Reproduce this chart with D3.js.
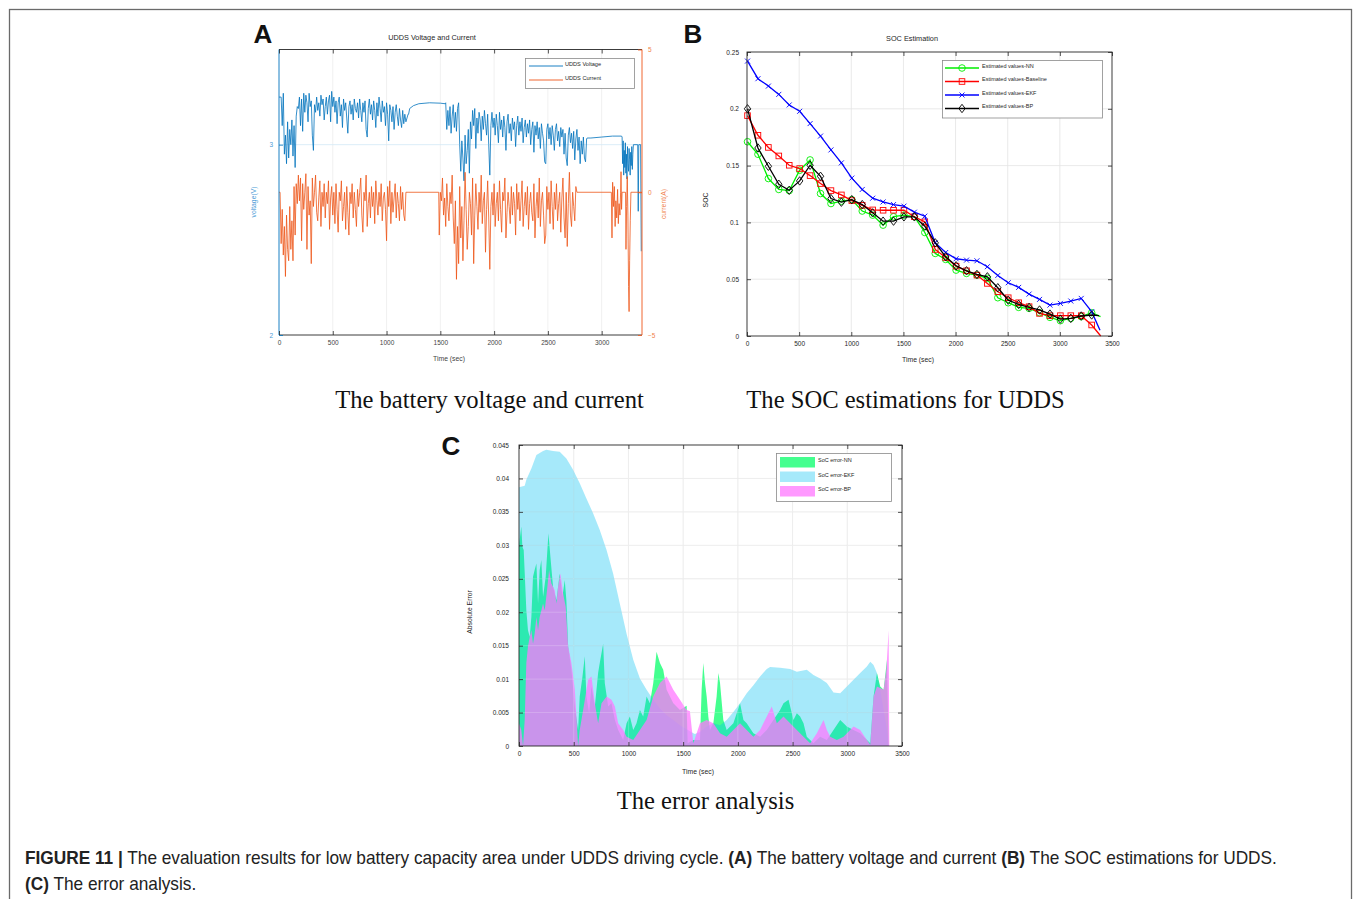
<!DOCTYPE html>
<html><head><meta charset="utf-8">
<script src="https://cdn.jsdelivr.net/npm/d3@7"></script>
<style>
body{margin:0;background:#fff}
svg{display:block}
</style>
</head><body>
<svg id="c" width="1355" height="899" font-family='"Liberation Sans",Arial,Helvetica,sans-serif'></svg>
<script>
// ---------------- DATA ----------------
// Panel A: voltage (V), driving segments sampled every 10 s
const voltDrive1 = [3.25,3.25,3.25,3.10,3.27,2.95,3.05,2.90,3.12,2.93,
 3.08,3.00,3.13,2.94,3.10,2.88,3.15,3.20,3.19,3.25,
 3.10,3.24,3.07,3.27,3.17,3.26,3.22,3.12,3.27,3.20,
 3.23,3.05,2.97,3.21,3.17,3.25,3.18,3.22,3.15,3.26,
 3.21,3.24,3.13,3.20,3.25,3.16,3.23,3.26,3.12,3.28,
 3.20,3.25,3.17,3.23,3.11,3.22,3.25,3.15,3.21,3.09,
 3.24,3.18,3.22,3.14,3.06,3.20,3.23,3.16,3.21,3.13,
 3.24,3.19,3.17,3.22,3.14,3.24,3.18,3.12,3.22,3.17,
 3.23,3.08,3.04,3.19,3.24,3.16,3.21,3.13,3.23,3.18,
 3.09,3.22,3.15,3.25,3.19,3.12,3.23,3.17,3.20,3.10,
 3.22,3.16,3.02,3.21,3.18,3.12,3.20,3.08,3.17,3.21,
 3.15,3.10,3.19,3.13,3.09,3.18,3.11,3.16,3.12,3.14,
 3.16];                       // t = 0 .. 1200
const voltRest1T = [1205,1215,1250,1300,1400,1500,1545];
const voltRest1V = [3.16,3.19,3.205,3.215,3.22,3.218,3.215];
const voltDrive2 = [3.22,3.08,3.18,3.10,3.20,3.06,3.15,3.21,3.09,3.17,
 3.07,3.19,3.22,3.00,2.86,3.02,2.93,2.81,3.05,2.90,
 2.97,3.08,2.85,3.12,3.03,3.18,3.10,3.19,2.98,3.14,
 3.06,3.17,3.13,3.02,3.15,3.08,3.18,3.11,3.05,3.16,
 3.00,2.84,3.10,3.17,3.09,3.14,3.05,3.16,3.10,3.01,
 3.17,3.08,3.13,3.04,3.15,3.09,2.97,3.12,3.16,3.06,
 3.11,3.02,3.14,3.08,3.12,2.99,3.10,3.15,3.05,3.12,
 3.07,3.14,3.01,3.09,3.13,3.04,3.11,3.06,3.13,3.00,
 3.08,3.12,2.96,3.10,3.05,3.12,3.03,3.09,2.98,3.11,
 3.06,3.02,2.91,2.90,3.08,3.11,3.03,3.09,3.00,3.10,
 3.05,2.97,3.08,3.11,3.02,3.07,2.99,3.09,3.04,3.08,
 2.95,3.06,2.93,2.89,3.05,3.09,3.01,3.06,2.98,3.07,
 2.92,3.03,3.08,2.97,3.04,2.90,3.02,2.95,3.04,2.93,
 2.91,3.03];                  // t = 1550 .. 2860
const voltRest2T = [2865,2900,3000,3100,3185];
const voltRest2V = [3.035,3.035,3.04,3.045,3.045];
const voltDrive3 = [3.04,2.90,3.02,2.84,2.97,2.88,3.01,2.85,2.95,2.82,2.99,
 2.90,2.86,2.98,2.92,2.84,2.96,2.89,2.99,2.87,2.95,3.00]; // t = 3190 .. 3295, every 5 s
const voltEndT = [3335,3340,3345,3362,3368];
const voltEndV = [3.0,2.65,3.0,3.0,2.44];

// Panel A: current (A)
const curDrive1 = [0,0,-1.8,-0.6,-2.2,-1.2,-2.95,-0.8,-2.0,-2.4,
 -0.5,-2.0,-1.0,-2.4,0.2,-1.5,0.3,-0.4,0.6,-0.3,
 0.5,-1.7,0.3,-0.6,0,0.65,-2.0,0.2,-0.8,-0.3,
 -2.5,0.5,-0.5,0,0.6,-0.7,-1.0,-0.2,0.4,-1.2,
 0,-0.5,0.3,-0.9,0,-0.4,0.4,-1.3,-0.2,0.2,
 -0.8,0,-1.1,0.3,-0.6,-1.4,0,-0.3,0.4,-1.0,
 -0.5,0,-1.3,0.2,-0.7,-1.5,0,-0.4,0.3,-0.9,
 0,-0.6,-1.2,0.1,-0.5,0,0.5,-0.8,-1.4,0,
 -0.3,0.6,-1.2,-0.4,0,-0.9,0.2,-0.5,0,-1.1,
 0.4,-0.3,-0.8,0,-0.5,0.3,-1.0,-0.2,0,-0.6,
 -1.7,0.2,-0.5,0.4,-1.1,0,-0.7,-0.2,0.3,-0.9,
 0,-0.4,-1.0,0.2,-0.6,0,-0.8,-1.0,0,0];      // t = 0 .. 1190
const curRest1T = [1200,1485];
const curRest1V = [0,0];
const curDrive2 = [-1.5,0,-0.3,0.5,-0.8,-0.2,-1.2,0.3,-0.5,-1.0,
 0,-0.4,0.6,-0.9,-1.8,-0.3,-3.05,-1.2,-2.5,0.2,
 -1.6,-0.5,-2.4,-1.0,0.7,-0.6,-2.0,-1.2,0,-0.4,
 -1.5,0.5,-2.5,-0.8,0.3,-0.5,-1.3,0,-0.7,0.6,
 -1.1,-0.3,0,-2.1,-0.6,0.4,-0.9,-2.7,-0.5,0,
 -0.8,0.3,-1.2,-0.4,0,-1.0,0.4,-0.6,-1.4,0,
 -0.3,0.5,-1.6,-0.7,0,-0.5,-1.1,0.2,-0.8,0,
 -0.4,-1.5,0.3,-0.6,0,-1.0,-0.3,0.4,-1.2,-0.5,
 0,-0.8,0.2,-1.3,-0.4,0,-0.7,-1.0,0.3,-1.6,
 -0.5,0,-0.9,0.5,-1.2,-0.3,0,-0.8,-1.8,-1.5,
 0.2,-0.6,0,-1.1,0.4,-0.5,-1.3,0,-0.6,0.3,
 -1.0,-0.4,0,-1.4,-0.2,0.5,-0.9,-1.6,0,-1.9,
 -0.4,0.7,-0.8,-1.2,0,-0.5,-1.0,0.2,0];       // t = 1490 .. 2770
const curRest2T = [2780,3090];
const curRest2V = [0,0];
const curDrive3T = [3096,3102,3110,3118,3125,3132,3140,3148,3155,3162,3170,3176,3180,3185,3190,3222,3226,3232,3238,3244,3250,3255,3260,3266,3272,3375];
const curDrive3V = [-1.6,0.35,-0.5,0.2,-1.2,-0.3,-0.9,0.1,-1.1,-0.4,-0.8,0,0.72,-0.6,0,0,-2.0,-0.5,0.55,-0.8,-3.3,-4.18,-2.4,-1.0,0,0];

const timeTicksA = [0,500,1000,1500,2000,2500,3000];
const voltTicks = [2,3];
const curTicks = [-5,0,5];

// Panel B: SOC estimations, markers every 100 s
const socTime = [5,105,205,305,405,505,605,705,805,905,1005,1105,1205,1305,1405,1505,1605,1705,1805,1905,2005,2105,2205,2305,2405,2505,2605,2705,2805,2905,3005,3105,3205,3305];
const socNN  = [0.171,0.160,0.1386,0.129,0.128,0.1459,0.155,0.1254,0.1166,0.1187,0.120,0.110,0.1064,0.0976,0.105,0.1064,0.105,0.0911,0.0727,0.0674,0.058,0.0551,0.0536,0.0507,0.0337,0.0293,0.0252,0.0243,0.0205,0.0164,0.0135,0.0155,0.017,0.0205];
const socBase= [0.194,0.1767,0.166,0.1585,0.1503,0.1474,0.1412,0.1342,0.128,0.1242,0.1192,0.115,0.111,0.1107,0.1107,0.1107,0.105,0.1005,0.0762,0.0691,0.0615,0.0574,0.0536,0.0463,0.039,0.0337,0.0293,0.0258,0.0199,0.0179,0.0179,0.0179,0.0179,0.0097];
const socEKF = [0.242,0.2265,0.220,0.2127,0.2034,0.1978,0.187,0.176,0.1638,0.1524,0.139,0.129,0.1213,0.118,0.1157,0.1143,0.109,0.1055,0.082,0.0735,0.068,0.0668,0.0662,0.061,0.0533,0.0469,0.0428,0.0369,0.0322,0.0272,0.0287,0.0308,0.0331,0.0214];
const socBP  = [0.200,0.1655,0.1494,0.1336,0.1283,0.1365,0.1503,0.1406,0.121,0.1178,0.120,0.1157,0.1084,0.1011,0.1011,0.1049,0.1049,0.0967,0.082,0.0697,0.0618,0.0574,0.0542,0.0521,0.0425,0.0316,0.0278,0.0252,0.0229,0.0193,0.0149,0.0155,0.0176,0.0185];
const socEndTime = [3390,3392,3385,3375];       // NN, Baseline, EKF, BP final points (no marker)
const socEndVal  = [0.017,0.0,0.005,0.018];
const socNames = ["Estimated values-NN","Estimated values-Baseline","Estimated values-EKF","Estimated values-BP"];
const timeTicksB = [0,500,1000,1500,2000,2500,3000,3500];
const socTicks = [0,0.05,0.1,0.15,0.2,0.25];

// Panel C: absolute SOC errors
const errNNTime = [0,21,31,43,55,67,82,98,113,128,143,159,174,189,204,220,244,269,287,311,342,372,397,418,433,449,479,510,540,555,580,601,616,641,662,693,723,738,769,784,815,845,876,906,952,983,1013,1044,1074,1105,1135,1166,1196,1227,1257,1288,1318,1349,1410,1471,1532,1541,1593,1654,1669,1684,1700,1715,1730,1745,1776,1806,1822,1837,1867,1898,1959,2020,2051,2081,2142,2203,2264,2325,2386,2417,2463,2508,2539,2569,2600,2630,2691,2752,2813,2874,2935,2966,2996,3057,3118,3179,3210,3240,3271,3301,3332,3363,3378];
const errNN = [0.030,0.0328,0.0298,0.0293,0.0248,0.0203,0.0173,0.0163,0.0193,0.0253,0.0263,0.0273,0.0213,0.0263,0.0278,0.0223,0.0253,0.0318,0.0283,0.0238,0.0218,0.0258,0.0223,0.0248,0.0218,0.0149,0.0114,0.0059,0.0024,0.0074,0.0104,0.0134,0.0074,0.0049,0.0089,0.0059,0.0109,0.0124,0.0153,0.0094,0.0059,0.0064,0.0039,0.0024,0.0009,0.0034,0.0044,0.0024,0.0034,0.0054,0.0044,0.0074,0.0064,0.0094,0.0141,0.0124,0.0114,0.0084,0.0064,0.0054,0.0060,0.0004,0.0009,0.0009,0.0084,0.0124,0.0094,0.0074,0.0044,0.0024,0.0034,0.0074,0.0109,0.0094,0.0039,0.0024,0.0034,0.0064,0.0039,0.0034,0.0019,0.0014,0.0024,0.0039,0.0054,0.0064,0.0069,0.0039,0.0049,0.0044,0.0034,0.0014,0.0004,0.0014,0.0009,0.0024,0.0039,0.0034,0.0029,0.0024,0.0019,0.0009,0.0004,0.0074,0.0109,0.0089,0.0084,0.0129,0];
const errEKFTime = [0,52,67,113,159,220,250,311,372,433,494,555,616,677,738,800,860,921,983,1044,1105,1166,1227,1288,1349,1410,1471,1532,1593,1608,1654,1715,1776,1837,1898,1959,2020,2081,2142,2203,2264,2295,2386,2478,2539,2630,2691,2752,2813,2874,2935,2996,3057,3118,3179,3210,3240,3271,3301,3332,3363,3378];
const errEKF = [0.0387,0.0389,0.0398,0.0415,0.0435,0.0441,0.0443,0.0441,0.0440,0.0430,0.0413,0.0393,0.0370,0.0348,0.0323,0.0293,0.0258,0.0213,0.0168,0.0129,0.0101,0.0084,0.0069,0.0056,0.0046,0.0039,0.0031,0.0025,0.0019,0.0018,0.0021,0.0029,0.0034,0.0031,0.0039,0.0051,0.0064,0.0079,0.0091,0.0104,0.0115,0.0118,0.0117,0.0115,0.0111,0.0114,0.0106,0.0101,0.0094,0.0080,0.0079,0.0089,0.0099,0.0109,0.0119,0.0126,0.0121,0.0109,0.0084,0.0054,0.0024,0];
const errBPTime = [0,21,37,52,67,82,98,113,128,143,159,174,189,220,235,256,275,296,327,342,357,378,403,427,449,479,510,525,540,555,586,632,662,693,723,754,800,845,876,906,952,983,1044,1105,1166,1227,1288,1349,1410,1471,1532,1562,1593,1654,1715,1776,1837,1898,1959,2020,2081,2142,2203,2264,2310,2356,2417,2478,2539,2600,2661,2722,2783,2813,2844,2905,2966,3057,3118,3179,3210,3240,3271,3332,3357,3378,3384];
const errBP = [0.0034,0.0024,0,0.0039,0.0124,0.0149,0.0163,0.0173,0.0153,0.0168,0.0193,0.0173,0.0193,0.0213,0.0203,0.0233,0.0263,0.0243,0.0233,0.0213,0.0238,0.0258,0.0228,0.0208,0.0149,0.0124,0.0084,0.0044,0,0.0024,0.0054,0.0099,0.0104,0.0064,0.0034,0.0064,0.0074,0.0069,0.0059,0.0034,0.0024,0.0014,0.0009,0.0024,0.0039,0.0074,0.0094,0.0104,0.0084,0.0069,0.0054,0.0052,0.0004,0.0034,0.0039,0.0034,0.0019,0.0014,0.0024,0.0034,0.0024,0.0014,0.0024,0.0044,0.0059,0.0034,0.0044,0.0034,0.0024,0.0014,0.0004,0.0019,0.0039,0.0024,0.0014,0.0009,0.0014,0.0029,0.0024,0.0009,0.0002,0.0074,0.0089,0.0084,0.0114,0.0173,0];
const errNames = ["SoC error-NN","SoC error-EKF","SoC error-BP"];
const timeTicksC = [0,500,1000,1500,2000,2500,3000,3500];
const errTicks = [0,0.005,0.01,0.015,0.02,0.025,0.03,0.035,0.04,0.045];

// ---------------- DRAWING ----------------
const svg = d3.select('#c');
const SANS = '"Liberation Sans",Arial,Helvetica,sans-serif';
const AX = '#262626', GRID = '#e3e3e3';
const pair = (T,V) => T.map((t,i)=>[t,V[i]]);
const seq = (start,step,V) => V.map((v,i)=>[start+i*step,v]);

svg.append('rect').attr('x',9.5).attr('y',9.5).attr('width',1342).attr('height',1000)
  .attr('fill','none').attr('stroke','#6a6a6a').attr('stroke-width',1.3);

function styleAxis(g, color, size){
  g.select('.domain').remove();
  g.attr('font-family',SANS);
  g.selectAll('.tick line').attr('stroke',color).attr('stroke-width',0.8);
  g.selectAll('.tick text').attr('fill',color).attr('font-size',size||7);
}
function label(g,x,y,txt,opts={}){
  const t = g.append('text').attr('x',x).attr('y',y).text(txt)
    .attr('font-size',opts.size||7).attr('fill',opts.fill||AX)
    .attr('text-anchor',opts.anchor||'middle').style('font-family',SANS);
  if(opts.rot) t.attr('transform',`rotate(${opts.rot},${x},${y})`);
  if(opts.weight) t.attr('font-weight',opts.weight);
  return t;
}

// ===== Panel A =====
(function(){
  const L=279,R=642,T=49.5,B=335;
  const g = svg.append('g');
  const x = d3.scaleLinear().domain([0,3375]).range([L,R]);
  const yV = d3.scaleLinear().domain([2,3.5]).range([B,T]);
  const yI = d3.scaleLinear().domain([-5,5]).range([B,T]);
  const VC='#0072BD', IC='#EE5518';
  g.selectAll('line.gx').data(timeTicksA.slice(1)).join('line')
    .attr('x1',d=>x(d)).attr('x2',d=>x(d)).attr('y1',T).attr('y2',B)
    .attr('stroke','#ececec').attr('stroke-width',0.8);
  g.selectAll('line.gy').data([3]).join('line')
    .attr('x1',L).attr('x2',R).attr('y1',d=>yV(d)).attr('y2',d=>yV(d))
    .attr('stroke','#d3e9f6').attr('stroke-width',0.8);
  const volt = [].concat(seq(0,10,voltDrive1), pair(voltRest1T,voltRest1V), seq(1550,10,voltDrive2),
    pair(voltRest2T,voltRest2V), seq(3190,5,voltDrive3), pair(voltEndT,voltEndV));
  const cur = [].concat(seq(0,10,curDrive1), pair(curRest1T,curRest1V), seq(1490,10,curDrive2),
    pair(curRest2T,curRest2V), pair(curDrive3T,curDrive3V));
  g.append('path').datum(volt).attr('fill','none').attr('stroke',VC).attr('stroke-width',0.8)
    .attr('d',d3.line().x(d=>x(d[0])).y(d=>yV(d[1])));
  g.append('path').datum(cur).attr('fill','none').attr('stroke',IC).attr('stroke-width',0.8)
    .attr('d',d3.line().x(d=>x(d[0])).y(d=>yI(d[1])));
  g.append('line').attr('x1',L).attr('x2',R).attr('y1',T).attr('y2',T).attr('stroke',AX).attr('stroke-width',0.9);
  g.append('line').attr('x1',L).attr('x2',R).attr('y1',B).attr('y2',B).attr('stroke',AX).attr('stroke-width',0.9);
  g.append('line').attr('x1',L).attr('x2',L).attr('y1',T).attr('y2',B).attr('stroke',VC).attr('stroke-width',0.9);
  g.append('line').attr('x1',R).attr('x2',R).attr('y1',T).attr('y2',B).attr('stroke',IC).attr('stroke-width',0.9);
  const ab = g.append('g').attr('transform',`translate(0,${B})`)
    .call(d3.axisBottom(x).tickValues(timeTicksA).tickSize(-4).tickPadding(5).tickFormat(d3.format('d')));
  styleAxis(ab,'#444',6.5); ab.selectAll('.tick line').attr('stroke',AX);
  const at = g.append('g').attr('transform',`translate(0,${T})`)
    .call(d3.axisTop(x).tickValues(timeTicksA).tickSize(-4).tickFormat(''));
  styleAxis(at,AX);
  const al = g.append('g').attr('transform',`translate(${L},0)`)
    .call(d3.axisLeft(yV).tickValues(voltTicks).tickSize(-4).tickPadding(6).tickFormat(d3.format('d')));
  styleAxis(al,'#4a9ad6',6.5); al.selectAll('.tick line').attr('stroke',VC);
  const ar = g.append('g').attr('transform',`translate(${R},0)`)
    .call(d3.axisRight(yI).tickValues(curTicks).tickSize(-4).tickPadding(6).tickFormat(d3.format('d')));
  styleAxis(ar,'#f0824a',6.5); ar.selectAll('.tick line').attr('stroke',IC);
  label(g,432,40,'UDDS Voltage and Current',{size:7.3});
  label(g,449,361,'Time (sec)',{size:6.8,fill:'#444'});
  label(g,256,202,'voltage(V)',{size:6.8,fill:'#4a9ad6',rot:-90});
  label(g,666,204,'current(A)',{size:6.8,fill:'#f0824a',rot:-90});
  g.append('rect').attr('x',525.5).attr('y',58.5).attr('width',109).attr('height',30)
    .attr('fill','#fff').attr('stroke','#8a8a8a').attr('stroke-width',0.8);
  [['UDDS Voltage',VC,66],['UDDS Current',IC,80]].forEach(([n,c,yy])=>{
    g.append('line').attr('x1',529).attr('x2',563).attr('y1',yy).attr('y2',yy).attr('stroke',c).attr('stroke-width',0.9);
    label(g,565,yy-0.5,n,{size:5.6,anchor:'start'});
  });
  label(svg,263,43,'A',{size:26,fill:'#111',weight:'bold'});
})();

// ===== Panel B =====
(function(){
  const L=747,R=1112,T=52,B=336;
  const g = svg.append('g');
  const x = d3.scaleLinear().domain([0,3500]).range([L,R]);
  const y = d3.scaleLinear().domain([0,0.25]).range([B,T]);
  g.selectAll('line.gx').data(timeTicksB.slice(1,-1)).join('line')
    .attr('x1',d=>x(d)).attr('x2',d=>x(d)).attr('y1',T).attr('y2',B).attr('stroke',GRID).attr('stroke-width',0.8);
  g.selectAll('line.gy').data(socTicks.slice(1,-1)).join('line')
    .attr('x1',L).attr('x2',R).attr('y1',d=>y(d)).attr('y2',d=>y(d)).attr('stroke',GRID).attr('stroke-width',0.8);
  const series = [
    {vals:socNN,  color:'#00ee00', mk:'circle'},
    {vals:socBase,color:'#ff0000', mk:'square'},
    {vals:socEKF, color:'#0000ff', mk:'x'},
    {vals:socBP,  color:'#000000', mk:'diamond'}
  ];
  const line = d3.line().x(d=>x(d[0])).y(d=>y(d[1]));
  function marker(sel,type,color){
    if(type==='circle') sel.append('circle').attr('r',3.3).attr('fill','none').attr('stroke',color).attr('stroke-width',0.9);
    else if(type==='square') sel.append('rect').attr('x',-2.8).attr('y',-2.8).attr('width',5.6).attr('height',5.6).attr('fill','none').attr('stroke',color).attr('stroke-width',0.9);
    else if(type==='x') sel.append('path').attr('d','M-2.5,-2.5L2.5,2.5M-2.5,2.5L2.5,-2.5').attr('stroke',color).attr('stroke-width',0.9);
    else sel.append('path').attr('d','M0,-4.2L3.2,0L0,4.2L-3.2,0Z').attr('fill','none').attr('stroke',color).attr('stroke-width',0.9);
  }
  series.forEach((s,k)=>{
    const pts = socTime.map((t,i)=>[t,s.vals[i]]).concat([[socEndTime[k],socEndVal[k]]]);
    g.append('path').datum(pts).attr('d',line).attr('fill','none').attr('stroke',s.color).attr('stroke-width',1.3);
    g.selectAll(null).data(pts.slice(0,-1)).join('g')
      .attr('transform',d=>`translate(${x(d[0])},${y(d[1])})`)
      .each(function(){ marker(d3.select(this),s.mk,s.color); });
  });
  g.append('rect').attr('x',L).attr('y',T).attr('width',R-L).attr('height',B-T).attr('fill','none').attr('stroke',AX).attr('stroke-width',0.9);
  styleAxis(g.append('g').attr('transform',`translate(0,${B})`)
    .call(d3.axisBottom(x).tickValues(timeTicksB).tickSize(-4).tickPadding(5).tickFormat(d3.format('d'))),AX,6.5);
  styleAxis(g.append('g').attr('transform',`translate(0,${T})`).call(d3.axisTop(x).tickValues(timeTicksB).tickSize(-4).tickFormat('')),AX);
  styleAxis(g.append('g').attr('transform',`translate(${L},0)`)
    .call(d3.axisLeft(y).tickValues(socTicks).tickSize(-4).tickPadding(8).tickFormat(d3.format('~g'))),AX,6.5);
  styleAxis(g.append('g').attr('transform',`translate(${R},0)`).call(d3.axisRight(y).tickValues(socTicks).tickSize(-4).tickFormat('')),AX);
  label(g,912,41,'SOC Estimation',{size:7.3});
  label(g,918,362,'Time (sec)',{size:6.8});
  label(g,708,200,'SOC',{size:6.8,rot:-90});
  g.append('rect').attr('x',942.5).attr('y',60.5).attr('width',160).attr('height',57.5)
    .attr('fill','#fff').attr('stroke','#8a8a8a').attr('stroke-width',0.8);
  series.forEach((s,i)=>{
    const yy = 68+i*13.5;
    g.append('line').attr('x1',945).attr('x2',979).attr('y1',yy).attr('y2',yy).attr('stroke',s.color).attr('stroke-width',1.6);
    const m = g.append('g').attr('transform',`translate(962,${yy})`); marker(m,s.mk,s.color);
    label(g,982,yy-0.5,socNames[i],{size:5.5,anchor:'start'});
  });
  label(svg,693,43,'B',{size:26,fill:'#111',weight:'bold'});
})();

// ===== Panel C =====
(function(){
  const L=519,R=902,T=445,B=746;
  const g = svg.append('g');
  const x = d3.scaleLinear().domain([0,3500]).range([L,R]);
  const y = d3.scaleLinear().domain([0,0.045]).range([B,T]);
  g.selectAll('line.gx').data(timeTicksC.slice(1,-1)).join('line')
    .attr('x1',d=>x(d)).attr('x2',d=>x(d)).attr('y1',T).attr('y2',B).attr('stroke',GRID).attr('stroke-width',0.8);
  g.selectAll('line.gy').data(errTicks.slice(1,-1)).join('line')
    .attr('x1',L).attr('x2',R).attr('y1',d=>y(d)).attr('y2',d=>y(d)).attr('stroke',GRID).attr('stroke-width',0.8);
  const area = d3.area().x(d=>x(d[0])).y0(y(0)).y1(d=>y(d[1]));
  const layers = [
    {pts:pair(errNNTime,errNN), fill:'rgb(68,255,143)', op:1},
    {pts:pair(errEKFTime,errEKF), fill:'rgb(0,191,240)', op:0.35},
    {pts:pair(errBPTime,errBP), fill:'rgb(255,118,255)', op:0.745}
  ];
  layers.forEach(l=>{
    g.append('path').datum(l.pts).attr('d',area).attr('fill',l.fill).attr('fill-opacity',l.op).attr('stroke','none');
  });
  g.selectAll('line.gy2').data(errTicks.slice(1,-1)).join('line')
    .attr('x1',L).attr('x2',R).attr('y1',d=>y(d)).attr('y2',d=>y(d)).attr('stroke','#fff').attr('stroke-opacity',0.25).attr('stroke-width',0.8);
  g.selectAll('line.gx2').data(timeTicksC.slice(1,-1)).join('line')
    .attr('x1',d=>x(d)).attr('x2',d=>x(d)).attr('y1',T).attr('y2',B).attr('stroke','#fff').attr('stroke-opacity',0.25).attr('stroke-width',0.8);
  g.append('rect').attr('x',L).attr('y',T).attr('width',R-L).attr('height',B-T).attr('fill','none').attr('stroke',AX).attr('stroke-width',0.9);
  styleAxis(g.append('g').attr('transform',`translate(0,${B})`)
    .call(d3.axisBottom(x).tickValues(timeTicksC).tickSize(-4).tickPadding(5).tickFormat(d3.format('d'))),AX,6.5);
  styleAxis(g.append('g').attr('transform',`translate(0,${T})`).call(d3.axisTop(x).tickValues(timeTicksC).tickSize(-4).tickFormat('')),AX);
  styleAxis(g.append('g').attr('transform',`translate(${L},0)`)
    .call(d3.axisLeft(y).tickValues(errTicks).tickSize(-4).tickPadding(10).tickFormat(d3.format('~g'))),AX,6.5);
  styleAxis(g.append('g').attr('transform',`translate(${R},0)`).call(d3.axisRight(y).tickValues(errTicks).tickSize(-4).tickFormat('')),AX);
  label(g,698,774,'Time (sec)',{size:6.8});
  label(g,472,612,'Absolute Error',{size:6.8,rot:-90});
  g.append('rect').attr('x',776.5).attr('y',453.5).attr('width',115).attr('height',48)
    .attr('fill','#fff').attr('stroke','#8a8a8a').attr('stroke-width',0.8);
  layers.forEach((l,i)=>{
    const yy = 457+i*14.5;
    g.append('rect').attr('x',780).attr('y',yy).attr('width',35).attr('height',10.5)
      .attr('fill',l.fill).attr('fill-opacity',l.op);
    label(g,818,yy+5,errNames[i],{size:5.5,anchor:'start'});
  });
  label(svg,451,455,'C',{size:26,fill:'#111',weight:'bold'});
})();

// ===== sub captions (serif) =====
const SERIF = '"Liberation Serif","Times New Roman",Times,serif';
[['The battery voltage and current',489.5,408],['The SOC estimations for UDDS',905.5,408],['The error analysis',705.5,809]]
  .forEach(([t,xx,yy])=>{
    svg.append('text').attr('x',xx).attr('y',yy).attr('text-anchor','middle').attr('font-size',24.6)
      .style('font-family',SERIF).attr('fill','#111').text(t);
  });

// ===== figure caption (condensed sans, horizontally scaled) =====
const CAP = '"Liberation Sans Narrow","Liberation Sans",Arial,sans-serif';
function capLine(y, parts){
  const g = svg.append('g').attr('transform',`translate(25,${y})`);
  const t = g.append('text').attr('x',0).attr('y',0).attr('font-size',18.5)
    .style('font-family',CAP).attr('fill','#222');
  parts.forEach(([s,b])=>t.append('tspan').attr('font-weight',b?'bold':'normal').text(s));
  return {g,t};
}
const c1 = capLine(864,[['FIGURE 11 |',1],[' The evaluation results for low battery capacity area under UDDS driving cycle. ',0],['(A)',1],[' The battery voltage and current ',0],['(B)',1],[' The SOC estimations for UDDS.',0]]);
const c2 = capLine(890,[['(C)',1],[' The error analysis.',0]]);
const ratio = 1253/c1.t.node().getComputedTextLength();
c1.g.attr('transform',`translate(25,864) scale(${ratio},1)`);
c2.g.attr('transform',`translate(25,890) scale(${ratio},1)`);
</script>
</body></html>
